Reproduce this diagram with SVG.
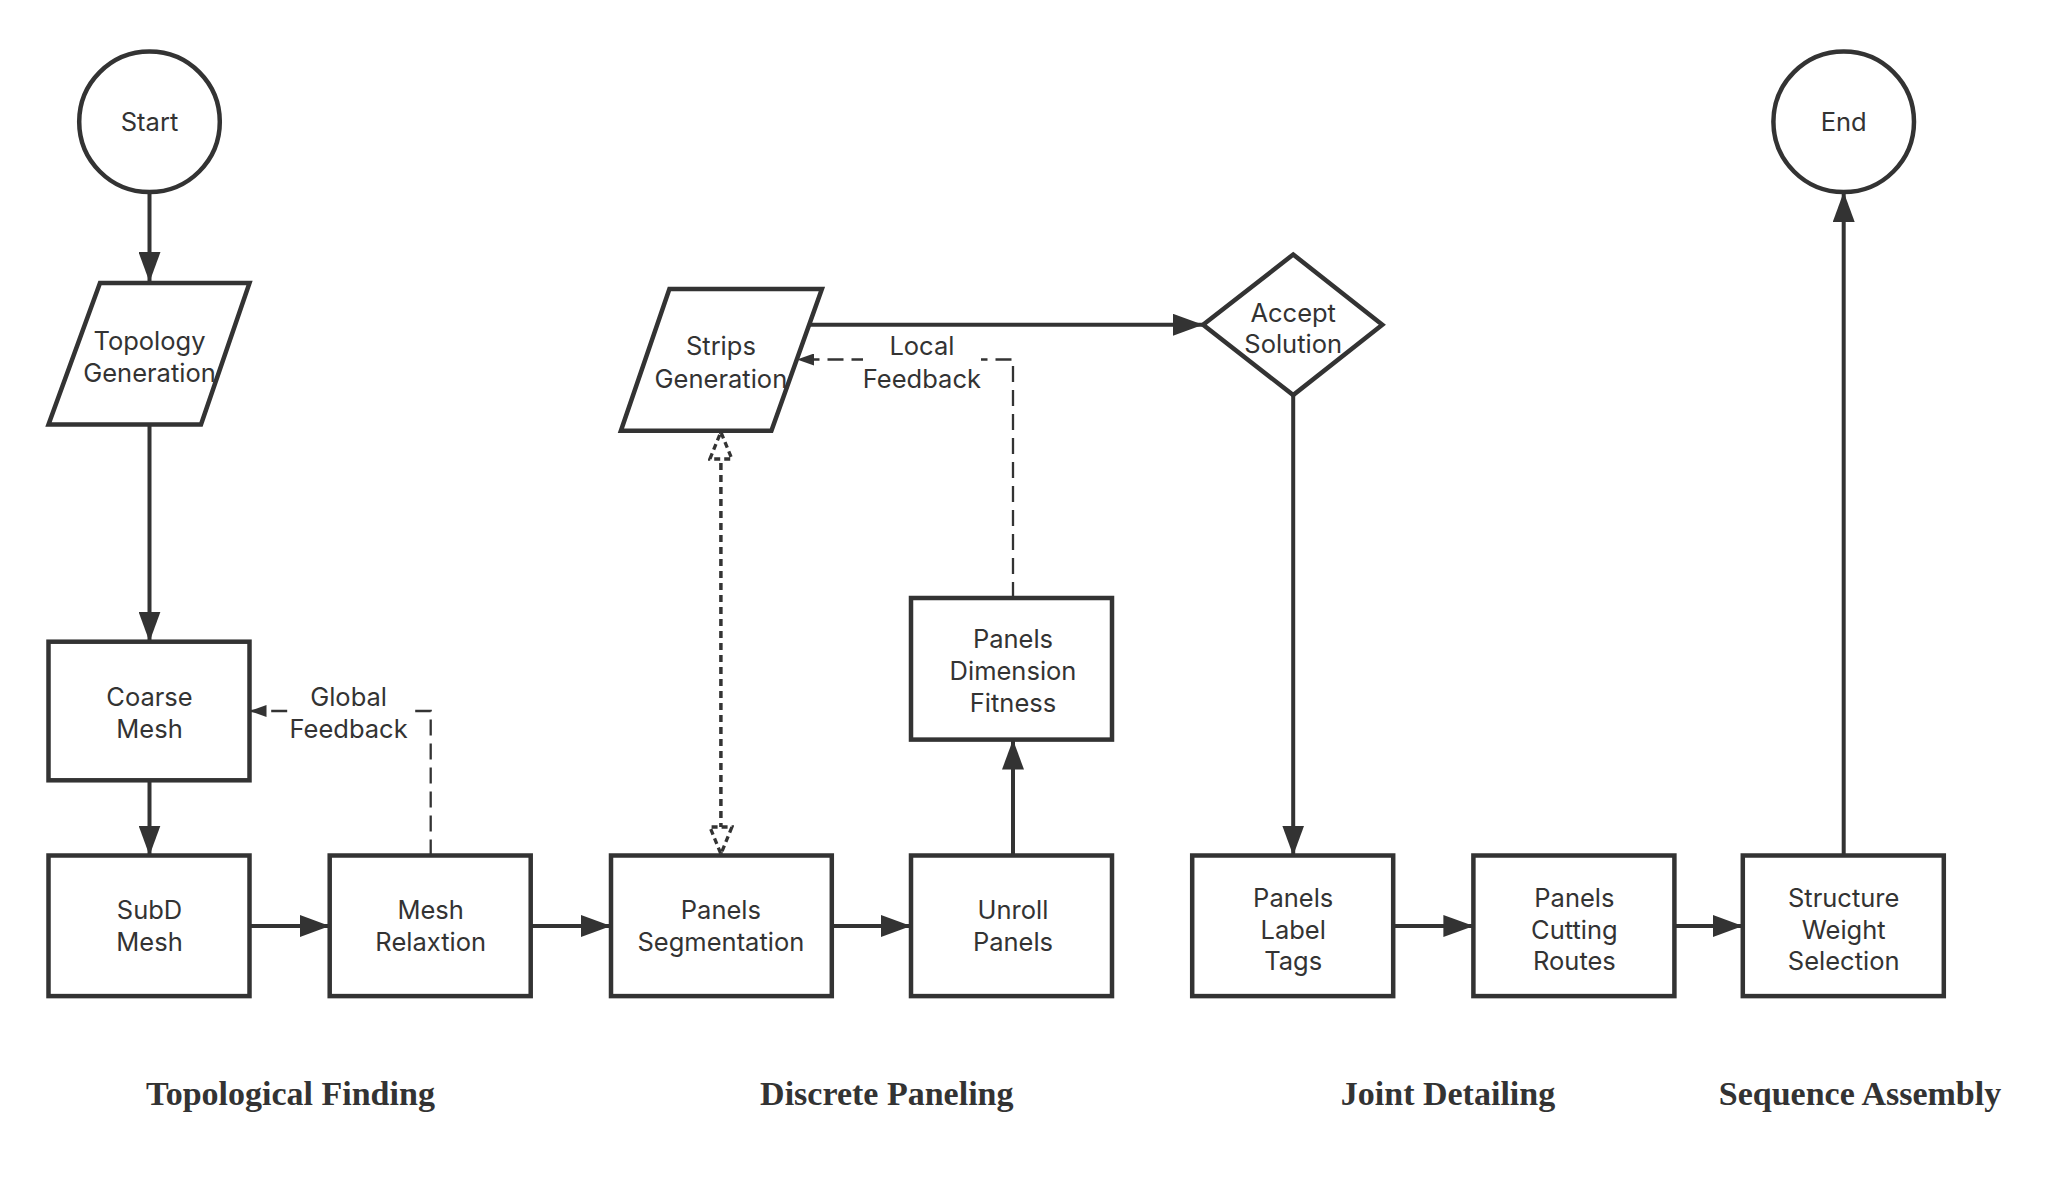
<svg xmlns="http://www.w3.org/2000/svg" width="2070" height="1179" viewBox="0 0 2070 1179">
<style>
.shape{fill:#fff;stroke:#333;stroke-width:4.5}
.t{font-family:Inter,"Noto Sans",sans-serif;font-size:25.5px;fill:#333;text-anchor:middle}
.h{font-family:"Liberation Serif","Times New Roman",serif;font-size:34px;font-weight:bold;fill:#333;text-anchor:middle}
.c{fill:none;stroke:#333;stroke-width:4}
.d{fill:none;stroke:#333;stroke-width:2.3;stroke-dasharray:16 8}
.dot{fill:none;stroke:#333;stroke-width:3.5;stroke-dasharray:7 5}
</style>
<defs>
<marker id="a" markerUnits="userSpaceOnUse" markerWidth="30" markerHeight="22" refX="30" refY="11" orient="auto"><path d="M0,0 L30,11 L0,22 z" fill="#333"/></marker>
<marker id="s" markerUnits="userSpaceOnUse" markerWidth="18" markerHeight="12" refX="17" refY="6" orient="auto"><path d="M0,0 L17,6 L0,12 z" fill="#333"/></marker>
<marker id="o" markerUnits="userSpaceOnUse" markerWidth="32" markerHeight="26" refX="29" refY="13" orient="auto-start-reverse"><path d="M2,2 L29,13 L2,24 z" fill="#fff" stroke="#333" stroke-width="3.3" stroke-dasharray="6 4"/></marker>
</defs>
<rect width="2070" height="1179" fill="#fff"/>
<g id="connectors">
<path class="c" d="M149.5,192 L149.5,282" marker-end="url(#a)"/>
<path class="c" d="M149.5,424 L149.5,641.7" marker-end="url(#a)"/>
<path class="c" d="M149.5,780 L149.5,855.5" marker-end="url(#a)"/>
<path class="c" d="M249.5,926 L329.7,926" marker-end="url(#a)"/>
<path class="c" d="M530.7,926 L611,926" marker-end="url(#a)"/>
<path class="c" d="M831.8,926 L911,926" marker-end="url(#a)"/>
<path class="c" d="M1013,855.5 L1013,739.6" marker-end="url(#a)"/>
<path class="d" d="M1013,598 L1013,359.5 L797,359.5" marker-end="url(#s)"/>
<path class="c" d="M808,324.8 L1203,324.8" marker-end="url(#a)"/>
<path class="c" d="M1293.2,395 L1293.2,855.5" marker-end="url(#a)"/>
<path class="c" d="M1393.2,926 L1473.4,926" marker-end="url(#a)"/>
<path class="c" d="M1674.4,926 L1742.8,926" marker-end="url(#a)"/>
<path class="c" d="M1843.7,855.5 L1843.7,192" marker-end="url(#a)"/>
<path class="d" d="M430.7,855.5 L430.7,711 L249.5,711" marker-end="url(#s)"/>
<path class="dot" d="M720.9,854 L720.9,432" marker-start="url(#o)" marker-end="url(#o)"/>
<g id="label-global">
<rect x="290" y="681" width="118" height="62" fill="#fff"/>
<text class="t"><tspan x="348.6" y="706">Global</tspan><tspan x="348.6" y="737.7">Feedback</tspan></text>
</g>
<g id="label-local">
<rect x="863" y="331" width="118" height="62" fill="#fff"/>
<text class="t"><tspan x="921.9" y="354.5">Local</tspan><tspan x="921.9" y="388.2">Feedback</tspan></text>
</g>
</g>
<g id="start">
<circle class="shape" cx="149.5" cy="121.8" r="70.3"/>
<text class="t" x="149.5" y="131">Start</text>
</g>
<g id="end">
<circle class="shape" cx="1843.7" cy="121.8" r="70.3"/>
<text class="t" x="1843.7" y="131">End</text>
</g>
<g id="topology-generation">
<polygon class="shape" points="100,283 249.5,283 201,424.5 48.5,424.5"/>
<text class="t"><tspan x="149.5" y="350">Topology</tspan><tspan x="149.5" y="381.7">Generation</tspan></text>
</g>
<g id="coarse-mesh">
<rect class="shape" x="48.5" y="641.7" width="201" height="138.6"/>
<text class="t"><tspan x="149.5" y="706">Coarse</tspan><tspan x="149.5" y="737.7">Mesh</tspan></text>
</g>
<g id="subd-mesh">
<rect class="shape" x="48.5" y="855.5" width="201" height="140.6"/>
<text class="t"><tspan x="149.5" y="918.9">SubD</tspan><tspan x="149.5" y="950.6">Mesh</tspan></text>
</g>
<g id="mesh-relaxtion">
<rect class="shape" x="329.7" y="855.5" width="201" height="140.6"/>
<text class="t"><tspan x="430.7" y="918.9">Mesh</tspan><tspan x="430.7" y="950.6">Relaxtion</tspan></text>
</g>
<g id="panels-segmentation">
<rect class="shape" x="611" y="855.5" width="220.8" height="140.6"/>
<text class="t"><tspan x="720.9" y="918.9">Panels</tspan><tspan x="720.9" y="950.6">Segmentation</tspan></text>
</g>
<g id="unroll-panels">
<rect class="shape" x="911" y="855.5" width="201" height="140.6"/>
<text class="t"><tspan x="1013" y="918.9">Unroll</tspan><tspan x="1013" y="950.6">Panels</tspan></text>
</g>
<g id="panels-dimension-fitness">
<rect class="shape" x="911" y="598" width="201" height="141.6"/>
<text class="t"><tspan x="1013" y="647.6">Panels</tspan><tspan x="1013" y="680.3">Dimension</tspan><tspan x="1013" y="712">Fitness</tspan></text>
</g>
<g id="strips-generation">
<polygon class="shape" points="669.4,289.1 821.9,289.1 771.4,430.7 620.9,430.7"/>
<text class="t"><tspan x="720.9" y="354.5">Strips</tspan><tspan x="720.9" y="388.2">Generation</tspan></text>
</g>
<g id="accept-solution">
<polygon class="shape" points="1293.2,254.5 1382.3,324.8 1293.2,395.1 1203.1,324.8"/>
<text class="t"><tspan x="1293.2" y="321.5">Accept</tspan><tspan x="1293.2" y="353">Solution</tspan></text>
</g>
<g id="panels-label-tags">
<rect class="shape" x="1192.2" y="855.5" width="201" height="140.6"/>
<text class="t"><tspan x="1293.2" y="907">Panels</tspan><tspan x="1293.2" y="938.7">Label</tspan><tspan x="1293.2" y="970.4">Tags</tspan></text>
</g>
<g id="panels-cutting-routes">
<rect class="shape" x="1473.4" y="855.5" width="201" height="140.6"/>
<text class="t"><tspan x="1574.4" y="907">Panels</tspan><tspan x="1574.4" y="938.7">Cutting</tspan><tspan x="1574.4" y="970.4">Routes</tspan></text>
</g>
<g id="structure-weight-selection">
<rect class="shape" x="1742.8" y="855.5" width="201" height="140.6"/>
<text class="t"><tspan x="1843.7" y="907">Structure</tspan><tspan x="1843.7" y="938.7">Weight</tspan><tspan x="1843.7" y="970.4">Selection</tspan></text>
</g>
<g id="stage-labels">
<text class="h" x="290.5" y="1105">Topological Finding</text>
<text class="h" x="886.8" y="1105">Discrete Paneling</text>
<text class="h" x="1448" y="1105">Joint Detailing</text>
<text class="h" x="1860" y="1105">Sequence Assembly</text>
</g>
</svg>
